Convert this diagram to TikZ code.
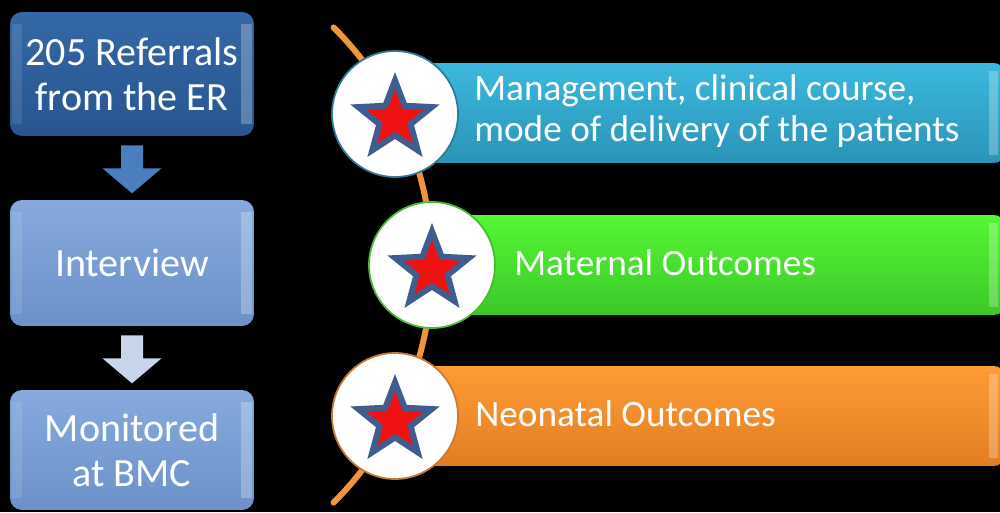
\documentclass[tikz,border=0pt]{standalone}
\usepackage{fontspec}
\setmainfont{Carlito}
\usetikzlibrary{shapes.geometric, calc}

\definecolor{referTop}{HTML}{3468A6}
\definecolor{referBot}{HTML}{285590}
\definecolor{paleTop}{HTML}{86AADD}
\definecolor{paleBot}{HTML}{6C91C9}
\definecolor{arrowDark}{HTML}{4A7EBF}
\definecolor{arrowLight}{HTML}{C8D5EB}
\definecolor{arcOrange}{HTML}{F0953C}
\definecolor{cyanTop}{HTML}{3CB8DE}
\definecolor{cyanBot}{HTML}{2A94B7}
\definecolor{greenTop}{HTML}{55F635}
\definecolor{greenBot}{HTML}{3CC82A}
\definecolor{orangeTop}{HTML}{FF9B35}
\definecolor{orangeBot}{HTML}{E27E22}
\definecolor{starBlue}{HTML}{3F5E8F}
\definecolor{starRed}{HTML}{F01212}
\definecolor{rimCyan}{HTML}{2A7D95}
\definecolor{rimGreen}{HTML}{45BF2E}
\definecolor{rimOrange}{HTML}{C77A30}

\tikzset{
  flowbox/.style={rounded corners=0.24cm, minimum width=4.88cm, inner sep=0pt, text=white, align=center,
    font=\fontsize{22.8}{25.6}\selectfont,
    path picture={
      \fill[white, opacity=0.25, sharp corners] ([xshift=-0.26cm, yshift=-0.24cm]path picture bounding box.north east) rectangle ([xshift=-0.04cm, yshift=0.24cm]path picture bounding box.south east);
      \fill[white, opacity=0.1, sharp corners] ([xshift=0.04cm, yshift=-0.24cm]path picture bounding box.north west) rectangle ([xshift=0.24cm, yshift=0.24cm]path picture bounding box.south west);
    }},
  outcomebar/.style={rounded corners=0.2cm, minimum width=11.68cm, minimum height=2cm, inner sep=0pt,
    path picture={
      \fill[white, opacity=0.25, sharp corners] ([xshift=-0.3cm, yshift=-0.16cm]path picture bounding box.north east) rectangle ([xshift=-0.12cm, yshift=0.16cm]path picture bounding box.south east);
    }},
  bartext/.style={anchor=west, text=white, align=left, inner sep=0pt, font=\fontsize{21.2}{23.3}\selectfont},
  disc/.style={circle, fill=white, minimum size=2.52cm, inner sep=0pt, line width=1pt},
  bigstar/.style={star, star points=5, star point ratio=2.35, inner sep=0pt, fill=starBlue, minimum size=1.88cm},
  smallstar/.style={star, star points=5, star point ratio=2.35, inner sep=0pt, fill=starRed, minimum size=1.2cm},
  arcline/.style={draw=arcOrange, line width=0.12cm, line cap=round},
}

\newcommand*{\flowBox}[6]{% name, y centre, height in cm, top colour, bottom colour, text
  \node[flowbox, minimum height=#3cm, top color=#4, bottom color=#5] (#1) at (132,#2) {#6};
}
\newcommand*{\downArrow}[2]{% box above, colour
  \fill[#2] ($(#1.south)+(-11,-9)$) -- ++(22,0) -- ++(0,-23) -- ++(18.5,0) -- ++(-29.5,-25) -- ++(-29.5,25) -- ++(18.5,0) -- cycle;
}
\newcommand*{\outcomeBar}[6]{% name, y centre, top colour, bottom colour, text x, text
  \node[outcomebar, top color=#3, bottom color=#4] (#1) at (712,#2) {};
  \node[bartext] (#1 text) at (#5,#2+2) {#6};
}
\newcommand*{\starDisc}[4]{% name, x, y, rim colour
  \node[disc, draw=#4] (#1) at (#2,#3) {};
  \node[bigstar] (#1 big) at ($(#1)+(0,-5)$) {};
  \node[smallstar] (#1 small) at (#1 big) {};
}

\begin{document}
\begin{tikzpicture}[x=0.02cm, y=0.02cm]
\fill[black] (0,0) rectangle (1000,512);
\clip (0,0) rectangle (1000,512);

% timeline arc behind the discs
\draw[arcline] (96,247) ++(45:336) arc[start angle=45, end angle=-45, radius=336];

\outcomeBar{mgmt}{399}{cyanTop}{cyanBot}{474}{Management, clinical course,\\mode of delivery of the patients}
\outcomeBar{maternal}{247}{greenTop}{greenBot}{514}{Maternal Outcomes}
\outcomeBar{neonatal}{96}{orangeTop}{orangeBot}{475}{Neonatal Outcomes}

\starDisc{s1}{395}{398}{rimCyan}
\starDisc{s2}{432}{247}{rimGreen}
\starDisc{s3}{395}{96}{rimOrange}

% left column
\flowBox{refer}{438}{2.48}{referTop}{referBot}{205 Referrals\\from the ER}
\flowBox{interview}{249}{2.52}{paleTop}{paleBot}{Interview}
\flowBox{monitor}{62}{2.4}{paleTop}{paleBot}{Monitored\\at BMC}
\downArrow{refer}{arrowDark}
\downArrow{interview}{arrowLight}
\end{tikzpicture}
\end{document}
